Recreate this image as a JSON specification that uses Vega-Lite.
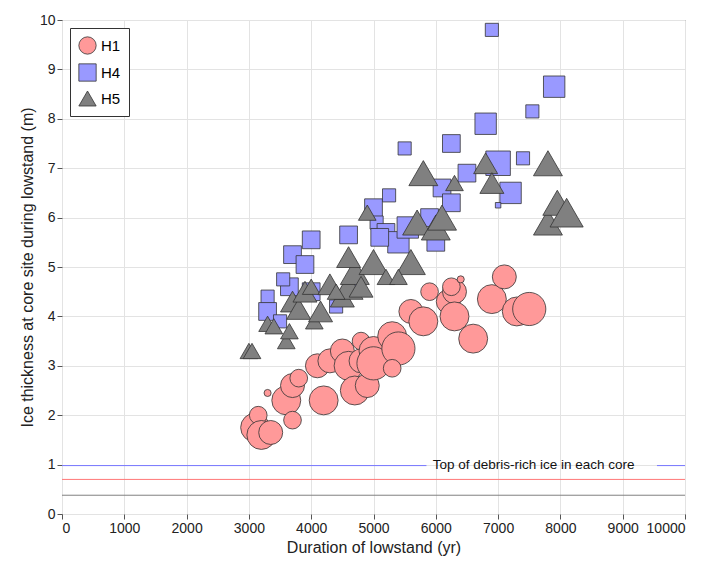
{
  "$schema": "https://vega.github.io/schema/vega-lite/v6.json",
  "width": 623,
  "height": 494,
  "autosize": "none",
  "padding": {"left": 62, "top": 20, "right": 24, "bottom": 52},
  "background": "white",
  "config": {
    "font": "Liberation Sans",
    "view": {"stroke": "#666", "strokeWidth": 1},
    "axis": {"gridColor": "#e3e3e3", "domain": false, "tickColor": "#555", "tickSize": 5, "labelFontSize": 14, "titleFontSize": 16, "titleFontWeight": "normal", "labelColor": "#222", "titleColor": "#222", "format": "d"}
  },
  "resolve": {"scale": {"size": "independent"}},
  "datasets": {
    "pts": [
      {"g": "H1", "x": 3100, "y": 1.75, "w": 4}, {"g": "H1", "x": 3150, "y": 2.0, "w": 2}, {"g": "H1", "x": 3200, "y": 1.6, "w": 4},
      {"g": "H1", "x": 3350, "y": 1.65, "w": 3}, {"g": "H1", "x": 3300, "y": 2.45, "w": 1}, {"g": "H1", "x": 3600, "y": 2.3, "w": 4},
      {"g": "H1", "x": 3700, "y": 1.9, "w": 2}, {"g": "H1", "x": 3700, "y": 2.6, "w": 3}, {"g": "H1", "x": 3800, "y": 2.75, "w": 2},
      {"g": "H1", "x": 4100, "y": 3.0, "w": 3}, {"g": "H1", "x": 4200, "y": 2.3, "w": 4}, {"g": "H1", "x": 4300, "y": 3.1, "w": 3},
      {"g": "H1", "x": 4500, "y": 3.3, "w": 3}, {"g": "H1", "x": 4600, "y": 3.0, "w": 4}, {"g": "H1", "x": 4700, "y": 2.5, "w": 4},
      {"g": "H1", "x": 4800, "y": 3.5, "w": 2}, {"g": "H1", "x": 4800, "y": 3.1, "w": 3}, {"g": "H1", "x": 4900, "y": 2.6, "w": 3},
      {"g": "H1", "x": 5000, "y": 3.3, "w": 4}, {"g": "H1", "x": 5000, "y": 3.05, "w": 5}, {"g": "H1", "x": 5300, "y": 3.6, "w": 4},
      {"g": "H1", "x": 5400, "y": 3.35, "w": 5}, {"g": "H1", "x": 5300, "y": 2.95, "w": 2}, {"g": "H1", "x": 5600, "y": 4.1, "w": 3},
      {"g": "H1", "x": 5800, "y": 3.9, "w": 4}, {"g": "H1", "x": 5900, "y": 4.5, "w": 2}, {"g": "H1", "x": 6200, "y": 4.3, "w": 3},
      {"g": "H1", "x": 6300, "y": 4.5, "w": 3}, {"g": "H1", "x": 6300, "y": 4.0, "w": 4}, {"g": "H1", "x": 6250, "y": 4.6, "w": 2},
      {"g": "H1", "x": 6400, "y": 4.75, "w": 1}, {"g": "H1", "x": 6600, "y": 3.55, "w": 4}, {"g": "H1", "x": 6900, "y": 4.35, "w": 4},
      {"g": "H1", "x": 7100, "y": 4.8, "w": 3}, {"g": "H1", "x": 7300, "y": 4.1, "w": 4}, {"g": "H1", "x": 7500, "y": 4.15, "w": 5},
      {"g": "H4", "x": 6900, "y": 9.8, "w": 2}, {"g": "H4", "x": 7900, "y": 8.65, "w": 4}, {"g": "H4", "x": 7550, "y": 8.15, "w": 2},
      {"g": "H4", "x": 6800, "y": 7.9, "w": 4}, {"g": "H4", "x": 6250, "y": 7.5, "w": 3}, {"g": "H4", "x": 5500, "y": 7.4, "w": 2},
      {"g": "H4", "x": 7000, "y": 7.1, "w": 5}, {"g": "H4", "x": 7400, "y": 7.2, "w": 2}, {"g": "H4", "x": 7200, "y": 6.5, "w": 4},
      {"g": "H4", "x": 7000, "y": 6.25, "w": 1}, {"g": "H4", "x": 6500, "y": 6.9, "w": 3}, {"g": "H4", "x": 6100, "y": 6.6, "w": 3},
      {"g": "H4", "x": 6250, "y": 6.3, "w": 3}, {"g": "H4", "x": 5900, "y": 6.0, "w": 3}, {"g": "H4", "x": 6000, "y": 5.5, "w": 3},
      {"g": "H4", "x": 5250, "y": 6.45, "w": 2}, {"g": "H4", "x": 5000, "y": 6.2, "w": 3}, {"g": "H4", "x": 5050, "y": 5.9, "w": 2},
      {"g": "H4", "x": 5200, "y": 5.7, "w": 3}, {"g": "H4", "x": 5400, "y": 5.5, "w": 4}, {"g": "H4", "x": 5550, "y": 5.8, "w": 4},
      {"g": "H4", "x": 5100, "y": 5.6, "w": 3}, {"g": "H4", "x": 4600, "y": 5.65, "w": 3}, {"g": "H4", "x": 4000, "y": 5.55, "w": 3},
      {"g": "H4", "x": 3700, "y": 5.25, "w": 3}, {"g": "H4", "x": 3900, "y": 5.05, "w": 3}, {"g": "H4", "x": 3650, "y": 4.6, "w": 3},
      {"g": "H4", "x": 3550, "y": 4.75, "w": 2}, {"g": "H4", "x": 3300, "y": 4.4, "w": 2}, {"g": "H4", "x": 3300, "y": 4.1, "w": 3},
      {"g": "H4", "x": 3500, "y": 3.9, "w": 2}, {"g": "H4", "x": 4000, "y": 4.5, "w": 3}, {"g": "H4", "x": 4400, "y": 4.2, "w": 2},
      {"g": "H4", "x": 4700, "y": 4.6, "w": 3},
      {"g": "H5", "x": 3000, "y": 3.3, "w": 2}, {"g": "H5", "x": 3050, "y": 3.3, "w": 2}, {"g": "H5", "x": 3300, "y": 3.85, "w": 2},
      {"g": "H5", "x": 3400, "y": 3.8, "w": 2}, {"g": "H5", "x": 3600, "y": 3.5, "w": 2}, {"g": "H5", "x": 3650, "y": 3.7, "w": 2},
      {"g": "H5", "x": 3700, "y": 4.3, "w": 3}, {"g": "H5", "x": 3800, "y": 4.15, "w": 3}, {"g": "H5", "x": 3900, "y": 4.5, "w": 3},
      {"g": "H5", "x": 4000, "y": 4.6, "w": 2}, {"g": "H5", "x": 4050, "y": 3.9, "w": 2}, {"g": "H5", "x": 4150, "y": 4.1, "w": 3},
      {"g": "H5", "x": 4300, "y": 4.65, "w": 3}, {"g": "H5", "x": 4500, "y": 4.4, "w": 3}, {"g": "H5", "x": 4600, "y": 4.6, "w": 4},
      {"g": "H5", "x": 4700, "y": 4.9, "w": 4}, {"g": "H5", "x": 4600, "y": 5.2, "w": 3}, {"g": "H5", "x": 4800, "y": 4.6, "w": 3},
      {"g": "H5", "x": 5000, "y": 5.1, "w": 4}, {"g": "H5", "x": 5200, "y": 4.8, "w": 2}, {"g": "H5", "x": 4900, "y": 6.1, "w": 2},
      {"g": "H5", "x": 5600, "y": 5.1, "w": 4}, {"g": "H5", "x": 5700, "y": 5.9, "w": 4}, {"g": "H5", "x": 6000, "y": 5.8, "w": 4},
      {"g": "H5", "x": 6100, "y": 6.0, "w": 4}, {"g": "H5", "x": 5800, "y": 6.9, "w": 4}, {"g": "H5", "x": 6300, "y": 6.7, "w": 2},
      {"g": "H5", "x": 6800, "y": 7.1, "w": 3}, {"g": "H5", "x": 6900, "y": 6.7, "w": 3}, {"g": "H5", "x": 7800, "y": 7.1, "w": 4},
      {"g": "H5", "x": 7800, "y": 5.9, "w": 4}, {"g": "H5", "x": 7950, "y": 6.3, "w": 4}, {"g": "H5", "x": 8100, "y": 6.1, "w": 5},
      {"g": "H5", "x": 5400, "y": 4.8, "w": 2}, {"g": "H5", "x": 4400, "y": 4.5, "w": 2}
    ],
    "lines": [
      {"g": "H4", "x": 0, "x2": 5850, "y": 0.98},
      {"g": "H4", "x": 9550, "x2": 10000, "y": 0.98},
      {"g": "H1", "x": 0, "x2": 10000, "y": 0.7},
      {"g": "H5", "x": 0, "x2": 10000, "y": 0.38}
    ],
    "label": [{"x": 5950, "y": 1.0, "t": "Top of debris-rich ice in each core"}]
  },
  "layer": [
    {
      "data": {"name": "lines"},
      "transform": [{"filter": "datum.g === 'H4'"}],
      "mark": {"type": "rule", "stroke": "#7777ff", "strokeWidth": 1},
      "encoding": {"x": {"field": "x", "type": "quantitative"}, "x2": {"field": "x2"}, "y": {"field": "y", "type": "quantitative"}}
    },
    {
      "data": {"name": "lines"},
      "transform": [{"filter": "datum.g === 'H1'"}],
      "mark": {"type": "rule", "stroke": "#ff7777", "strokeWidth": 1},
      "encoding": {"x": {"field": "x", "type": "quantitative"}, "x2": {"field": "x2"}, "y": {"field": "y", "type": "quantitative"}}
    },
    {
      "data": {"name": "lines"},
      "transform": [{"filter": "datum.g === 'H5'"}],
      "mark": {"type": "rule", "stroke": "#808080", "strokeWidth": 1},
      "encoding": {"x": {"field": "x", "type": "quantitative"}, "x2": {"field": "x2"}, "y": {"field": "y", "type": "quantitative"}}
    },
    {
      "data": {"name": "label"},
      "mark": {"type": "text", "align": "left", "baseline": "middle", "fontSize": 13.5, "color": "#111"},
      "encoding": {"x": {"field": "x", "type": "quantitative"}, "y": {"field": "y", "type": "quantitative"}, "text": {"field": "t"}}
    },
    {
      "data": {"name": "pts"},
      "transform": [{"filter": "datum.g === 'H4'"}],
      "mark": {"type": "point", "filled": true, "opacity": 1, "stroke": "#333", "strokeWidth": 0.8},
      "encoding": {
        "x": {"field": "x", "type": "quantitative"},
        "y": {"field": "y", "type": "quantitative"},
        "color": {"field": "g", "type": "nominal"},
        "shape": {"field": "g", "type": "nominal"},
        "size": {"field": "w", "type": "quantitative", "legend": null, "scale": {"domain": [1, 5], "range": [30, 600]}}
      }
    },
    {
      "data": {"name": "pts"},
      "transform": [{"filter": "datum.g !== 'H4'"}],
      "mark": {"type": "point", "filled": true, "opacity": 1, "stroke": "#333", "strokeWidth": 0.8},
      "encoding": {
        "x": {"field": "x", "type": "quantitative", "title": "Duration of lowstand (yr)", "scale": {"domain": [0, 10000], "nice": false}, "axis": {"tickCount": 10}},
        "y": {"field": "y", "type": "quantitative", "title": "Ice thickness at core site during lowstand (m)", "scale": {"domain": [0, 10], "nice": false}, "axis": {"tickCount": 10}},
        "color": {"field": "g", "type": "nominal", "title": null, "scale": {"domain": ["H1", "H4", "H5"], "range": ["#ff9999", "#9999ff", "#808080"]},
          "legend": {"orient": "top-left", "strokeColor": "#333", "fillColor": "white", "padding": 8, "labelFontSize": 15, "symbolSize": 300, "symbolStrokeColor": "#444", "symbolStrokeWidth": 0.8, "rowPadding": 6, "offset": 8, "cornerRadius": 0}},
        "shape": {"field": "g", "type": "nominal", "title": null, "scale": {"domain": ["H1", "H4", "H5"], "range": ["circle", "square", "triangle-up"]}},
        "size": {"field": "w", "type": "quantitative", "legend": null, "scale": {"domain": [1, 5], "range": [50, 1100]}}
      }
    }
  ]
}
